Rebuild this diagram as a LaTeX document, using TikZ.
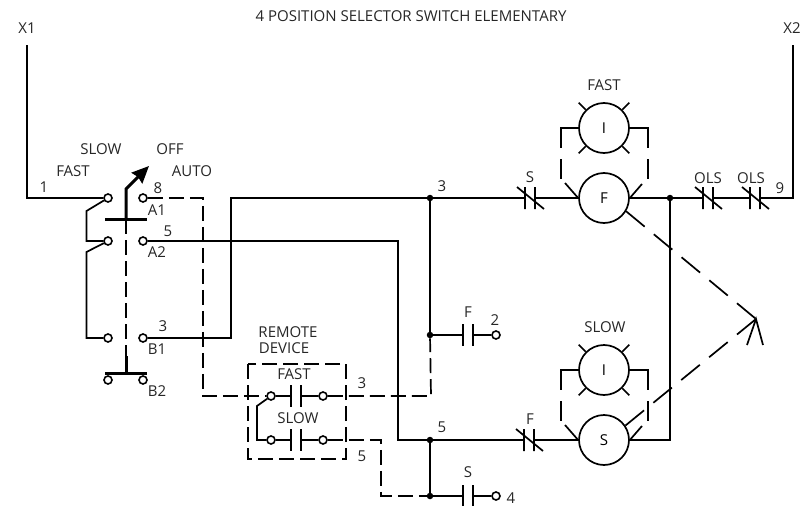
\documentclass[tikz,border=0pt]{standalone}
\usepackage{fontspec}
\setmainfont{Open Sans}
\usetikzlibrary{arrows.meta,calc}
\begin{document}
\begin{tikzpicture}[x = 1pt, y = -1pt, font = \fontsize{15}{17}\selectfont, line cap = butt,
  wire/.style = {line width = 1.7pt, line join = miter},
  dashwire/.style = {wire, dash pattern = on 15pt off 6pt},
  longdash/.style = {wire, dash pattern = on 24pt off 12pt},
  heavy/.style = {line width = 3pt},
  lbl/.style = {inner sep = 0pt, text = black!85},
  term/.style = {circle, draw, line width = 1.6pt, fill = white, inner sep = 0pt, minimum size = 8pt},
  junct/.style = {circle, fill = black, inner sep = 0pt, minimum size = 6.5pt},
  coil/.style = {circle, draw, line width = 1.7pt, inner sep = 0pt, minimum size = 50pt},
  contact/.style = {inner sep = 0pt, outer sep = 0pt, minimum width = 10pt, minimum height = 22pt}]
\useasboundingbox (0, 0) rectangle (801, 506);

% rails
\coordinate (railL) at (27, 45);
\coordinate (railR) at (793, 45);
\node[lbl] (title) at (411, 16) {4 POSITION SELECTOR SWITCH ELEMENTARY};
\node[lbl] (xone) at (27, 28) {X1};
\node[lbl] (xtwo) at (792, 28) {X2};

% selector switch
\foreach \n/\x/\y in {tl1/108/198, tl2/108/241, tl3/108/338, tl4/108/380,
  tr1/143/198, tr2/143/241, tr3/143/338, tr4/143/380, tf1/271/396, tf2/323/396,
  ts1/271/440, ts2/323/440, tq1/496/335, tq2/496/496}
  \node[term] (\n) at (\x, \y) {};
\coordinate (bar1) at (126, 219);
\coordinate (bar2) at (126, 373);
\draw[heavy] (105, 219) -- (147, 219) (105, 373) -- (147, 373);
\draw[heavy, line join = miter, -{Stealth[length = 17pt, width = 15pt, inset = 1.5pt]}] (bar1) -- (126, 189) -- (149, 166);
\draw[heavy] (bar2) -- (126, 356);
\draw[dashwire] (bar1) -- (126, 356);
\draw[wire] (tl1) -- (86.5, 211) -- (86.5, 241) -- (100, 241) -- (tl2);
\draw[wire] (tl2) -- (86.5, 252) -- (86.5, 338) -- (tl3);

% junctions, coils, lamps, contacts
\foreach \n/\x/\y in {j1/430/198, j2/430/335, j3/430/440, j4/430/496, j5/670/198}
  \node[junct] (\n) at (\x, \y) {};
\node[coil] (coilF) at (604, 198) {F};
\node[coil] (coilS) at (604, 440) {S};
\node[coil] (lampF) at (604, 128) {I};
\node[coil] (lampS) at (604, 370) {I};
\foreach \n/\x/\y in {cS/530/198, cO1/708/198, cO2/755/198, cF/529/440}
{
  \node[contact] (\n) at (\x, \y) {};
  \draw[wire] (\n.north west) -- (\n.south west) (\n.north east) -- (\n.south east)
    ($(\n.north west) + (-8, 0)$) -- ($(\n.south east) + (9, 0)$);
}
\foreach \n/\x/\y in {cA/468/335, cB/468/496, cC/296/396, cD/296/440}
{
  \node[contact] (\n) at (\x, \y) {};
  \draw[wire] (\n.north west) -- (\n.south west) (\n.north east) -- (\n.south east);
}
\foreach \l/\c/\y in {lampF/coilF/128, lampS/coilS/370}
{
  \foreach \a in {45, 135, 225, 315}
    \draw[wire] (\l.\a) -- ++(-\a:10);
  \draw[wire] (\l.west) -- (561, \y) -- (561, {\y + 20});
  \draw[wire] (561, {\y + 31}) -- (561, {\y + 51});
  \draw[wire] (565, {\y + 55}) -- (\c.west);
  \draw[wire] (\l.east) -- (648, \y) -- (648, {\y + 20});
  \draw[wire] (648, {\y + 31}) -- (648, {\y + 51});
  \draw[wire] (642, {\y + 56}) -- (\c.east);
}

% solid wiring
\draw[wire] (railL) |- (tl1);
\draw[wire] (tr3) -- (231, 338) -- (231, 198) -- (j1) -- (cS.west);
\draw[wire] (cS.east) -- (coilF.west);
\draw[wire] (coilF.east) -- (j5) -- (cO1.west);
\draw[wire] (cO1.east) -- (cO2.west);
\draw[wire] (cO2.east) -- (793, 198) -- (railR);
\draw[wire] (tr2) -- (398, 241) -- (398, 440) -- (j3) -- (cF.west);
\draw[wire] (cF.east) -- (coilS.west);
\draw[wire] (coilS.east) -- (670, 440) -- (j5);
\draw[wire] (j1) -- (j2) -- (cA.west);
\draw[wire] (cA.east) -- (tq1);
\draw[wire] (j3) -- (j4) -- (cB.west);
\draw[wire] (cB.east) -- (tq2);
\draw[wire] (tf1) -- (cC.west) (cC.east) -- (tf2);
\draw[wire] (ts1) -- (cD.west) (cD.east) -- (ts2);
\draw[wire] (tf1) -- (257, 406) -- (257, 440) -- (ts1);

% dashed wiring
\draw[dashwire] (tr1) -- (203, 198) -- (203, 396) -- (tf1);
\draw[dashwire] (tf2) -- (431, 396) -- (j2);
\draw[dashwire] (ts2) -- (381, 440) -- (381, 496) -- (j4);
\draw[dashwire] (248, 364) rectangle (346, 459);

% mechanical link
\coordinate (tip) at (756, 319);
\draw[longdash] (coilF.-31) -- (tip);
\draw[longdash] (coilS.34) -- (tip);
\draw[wire] (747, 345) -- (tip) -- (763, 345);

% labels
\foreach \n/\x/\y/\t in {a/101/149/SLOW, b/170/149/OFF, c/73/171/FAST, d/192/171/AUTO,
  e/44/187/1, f/158/188/8, g/157/210/A1, h/168/231/5, i/157/252/A2, k/163/326/3,
  l/157/349/B1, m/157/391/B2, n/288/332/REMOTE, o/284/348/DEVICE, p/294/374/FAST,
  q/298/418/SLOW, r/362/383/3, s/362/456/5, t/442/186/3, u/442/427/5, v/468/312/F,
  w/495/320/2, y/468/472/S, z/511/498/4, aa/605/327/SLOW, ab/604/85/FAST,
  ac/530/177/S, ad/530/419/F, ae/708/178/OLS, af/751/178/OLS, ag/780/188/9}
  \node[lbl] (lbl\n) at (\x, \y) {\t};
\end{tikzpicture}
\end{document}
